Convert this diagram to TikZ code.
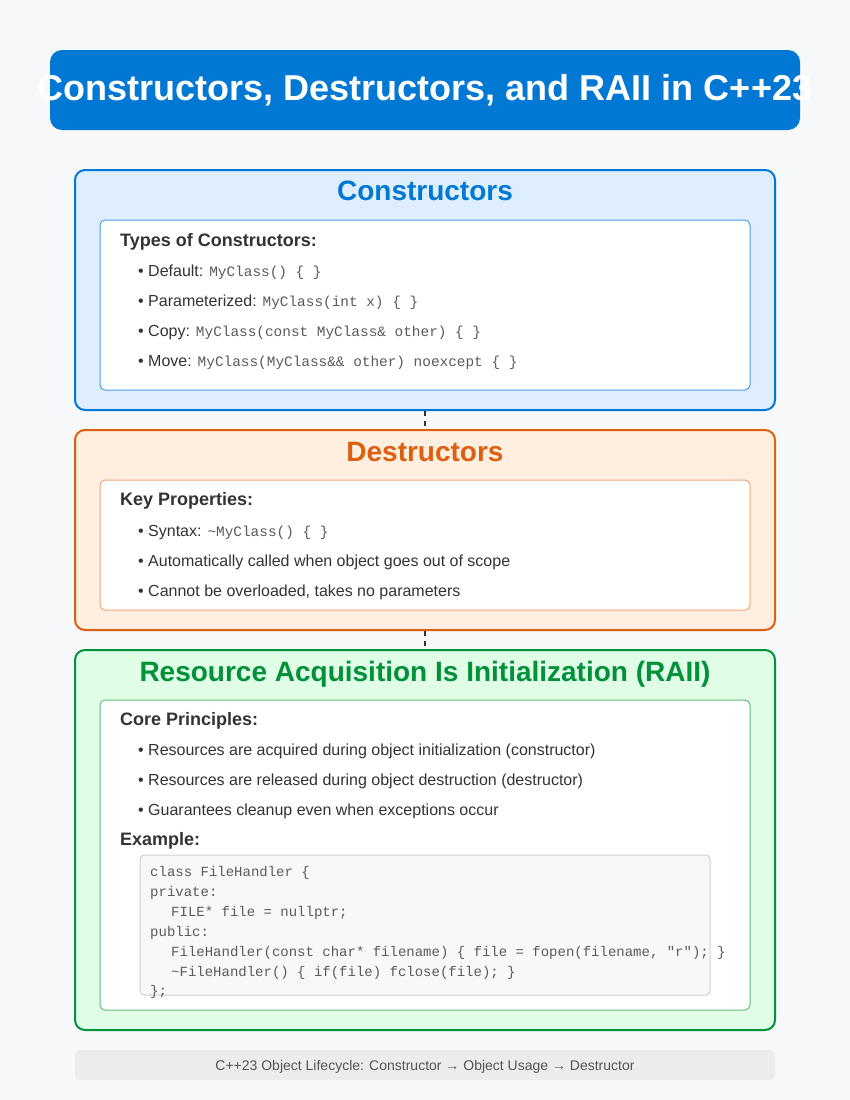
\documentclass[tikz,border=0pt]{standalone}
\usepackage{fontspec}
\setmainfont{Liberation Sans}
\setmonofont{Liberation Mono}
\definecolor{bg}{HTML}{F7F8FA}
\definecolor{mainblue}{HTML}{0078D4}
\definecolor{bluefill}{HTML}{DFEEFD}
\definecolor{blueinner}{HTML}{4A9FE6}
\definecolor{orangeline}{HTML}{DD5F10}
\definecolor{orangefill}{HTML}{FFEFE0}
\definecolor{orangeinner}{HTML}{F0A576}
\definecolor{greenline}{HTML}{00913A}
\definecolor{greenfill}{HTML}{E0FDE6}
\definecolor{greeninner}{HTML}{5EBF80}
\definecolor{txt}{HTML}{333333}
\definecolor{codetxt}{HTML}{5A5A5A}
\definecolor{codefill}{HTML}{F7F8FA}
\definecolor{codeline}{HTML}{CFCFCF}
\definecolor{footfill}{HTML}{ECECEC}
\definecolor{foottxt}{HTML}{555555}
\tikzset{
  secbox/.style={draw, line width=2pt, rounded corners=10pt, minimum width=700pt, inner sep=0pt},
  innerbox/.style={draw, line width=1pt, fill=white, rounded corners=5pt, minimum width=650pt, inner sep=0pt},
  sectitle/.style={font=\bfseries\fontsize{28}{32}\selectfont, anchor=base, inner sep=0pt},
  subhead/.style={font=\bfseries\fontsize{18}{22}\selectfont, text=txt, anchor=base west, inner sep=0pt},
  bullet/.style={font=\fontsize{16}{20}\selectfont, text=txt, anchor=base west, inner sep=0pt},
  codeln/.style={font=\ttfamily\fontsize{14}{16}\selectfont, text=codetxt, anchor=base west, inner sep=0pt},
  conn/.style={draw=txt, line width=2pt, dash pattern=on 5pt off 5pt}
}
\newcommand{\inl}[1]{{\ttfamily\fontsize{14.4}{16}\selectfont\color{codetxt}#1}}
\begin{document}
\begin{tikzpicture}[x=1pt,y=-1pt]
\fill[bg] (0,0) rectangle (850,1100);
\useasboundingbox (0,0) rectangle (850,1100);
% title
\node[fill=mainblue, rounded corners=12pt, minimum width=750pt, minimum height=80pt, inner sep=0pt] (titlebox) at (425,90) {};
\node[font=\bfseries\fontsize{36}{40}\selectfont, text=white, anchor=base, inner sep=0pt] (titletext) at (425,100) {Constructors, Destructors, and RAII in C++23};
% constructors
\node[secbox, draw=mainblue, fill=bluefill, minimum height=240pt] (cons) at (425,290) {};
\node[sectitle, text=mainblue] (constitle) at (425,200) {Constructors};
\node[innerbox, draw=blueinner, minimum height=170pt] (consin) at (425,305) {};
\node[subhead] (consh) at (120,246) {Types of Constructors:};
\node[bullet] (c1) at (138,276) {• Default: \inl{MyClass() \{ \}}};
\node[bullet] (c2) at (138,306) {• Parameterized: \inl{MyClass(int x) \{ \}}};
\node[bullet] (c3) at (138,336) {• Copy: \inl{MyClass(const MyClass\& other) \{ \}}};
\node[bullet] (c4) at (138,366) {• Move: \inl{MyClass(MyClass\&\& other) noexcept \{ \}}};
% destructors
\node[secbox, draw=orangeline, fill=orangefill, minimum height=200pt] (dest) at (425,530) {};
\node[sectitle, text=orangeline] (desttitle) at (425,461) {Destructors};
\node[innerbox, draw=orangeinner, minimum height=130pt] (destin) at (425,545) {};
\node[subhead] (desth) at (120,505) {Key Properties:};
\node[bullet] (d1) at (138,536) {• Syntax: \inl{\textasciitilde MyClass() \{ \}}};
\node[bullet] (d2) at (138,566) {• Automatically called when object goes out of scope};
\node[bullet] (d3) at (138,596) {• Cannot be overloaded, takes no parameters};
% RAII
\node[secbox, draw=greenline, fill=greenfill, minimum height=380pt] (raii) at (425,840) {};
\node[sectitle, text=greenline] (raiititle) at (425,681) {Resource Acquisition Is Initialization (RAII)};
\node[innerbox, draw=greeninner, minimum height=310pt] (raiiin) at (425,855) {};
\node[subhead] (raiih) at (120,725) {Core Principles:};
\node[bullet] (r1) at (138,755) {• Resources are acquired during object initialization (constructor)};
\node[bullet] (r2) at (138,785) {• Resources are released during object destruction (destructor)};
\node[bullet] (r3) at (138,815) {• Guarantees cleanup even when exceptions occur};
\node[subhead] (exh) at (120,845) {Example:};
\node[draw=codeline, line width=1pt, fill=codefill, rounded corners=4pt, minimum width=570pt, minimum height=140pt, inner sep=0pt] (code) at (425,925) {};
\node[codeln] (k1) at (150,876) {class FileHandler \{};
\node[codeln] (k2) at (150,896) {private:};
\node[codeln] (k3) at (171,916) {FILE* file = nullptr;};
\node[codeln] (k4) at (150,936) {public:};
\node[codeln] (k5) at (171,956) {FileHandler(const char* filename) \{ file = fopen(filename, "r"); \}};
\node[codeln] (k6) at (171,976) {\textasciitilde FileHandler() \{ if(file) fclose(file); \}};
\node[codeln] (k7) at (150,995) {\};};
% connectors
\draw[conn] (cons.south) -- (dest.north);
\draw[conn] (dest.south) -- (raii.north);
% footer
\node[fill=footfill, rounded corners=5pt, minimum width=700pt, minimum height=30pt, inner sep=0pt] (foot) at (425,1065) {};
\node[font=\fontsize{14}{16}\selectfont, text=foottxt, anchor=base, inner sep=0pt] (foottext) at (425,1070) {C++23 Object Lifecycle: Constructor → Object Usage → Destructor};
\end{tikzpicture}
\end{document}
